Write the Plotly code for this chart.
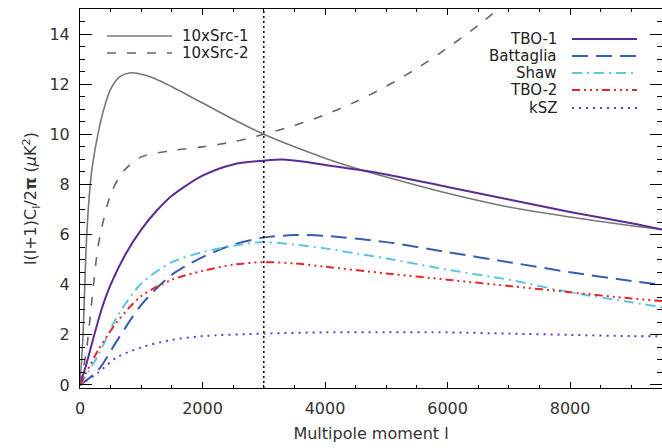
import plotly.graph_objects as go

# ---- data (multipole l, D_l in muK^2) ----
src1_l = [0, 50, 100, 150, 200, 300, 400, 500, 650, 800, 1000, 1200, 1500, 2000, 2500, 3000, 3500, 4000, 4500, 5000, 6000, 7000, 8000, 9000, 9500]
src1_v = [0, 2.0, 5.5, 7.5, 8.7, 10.1, 11.1, 11.8, 12.3, 12.45, 12.4, 12.25, 11.9, 11.25, 10.6, 10.0, 9.5, 9.05, 8.65, 8.3, 7.65, 7.1, 6.7, 6.35, 6.2]

src2_l = [0, 100, 200, 300, 500, 700, 1000, 1500, 2000, 2500, 3000, 3500, 4000, 4500, 5000, 5500, 6000, 6500, 7000]
src2_v = [0, 1.3, 3.5, 5.6, 7.6, 8.5, 9.1, 9.35, 9.5, 9.7, 10.0, 10.35, 10.78, 11.3, 11.92, 12.63, 13.45, 14.35, 15.35]

tbo1_l = [0, 100, 200, 350, 500, 750, 1000, 1250, 1500, 2000, 2500, 3000, 3300, 3700, 4000, 4500, 5000, 6000, 7000, 8000, 9000, 9500]
tbo1_v = [0, 0.8, 1.7, 3.0, 4.0, 5.25, 6.2, 6.95, 7.55, 8.35, 8.8, 8.95, 9.0, 8.9, 8.78, 8.6, 8.4, 7.9, 7.4, 6.9, 6.45, 6.2]

batt_l = [0, 300, 600, 1000, 1500, 2000, 2500, 3000, 3500, 4000, 5000, 6000, 7000, 8000, 9000, 9500]
batt_v = [0, 0.6, 1.75, 3.2, 4.4, 5.1, 5.6, 5.88, 5.98, 5.95, 5.7, 5.3, 4.9, 4.5, 4.15, 4.0]

shaw_l = [0, 300, 600, 1000, 1500, 2000, 2500, 3000, 3500, 4000, 4500, 5000, 6000, 7000, 8000, 9000, 9500]
shaw_v = [0, 1.2, 2.7, 4.05, 4.9, 5.3, 5.55, 5.7, 5.6, 5.45, 5.25, 5.05, 4.6, 4.2, 3.7, 3.3, 3.1]

tbo2_l = [0, 300, 600, 1000, 1500, 2000, 2500, 3000, 3500, 4000, 5000, 6000, 7000, 8000, 9000, 9500]
tbo2_v = [0, 1.4, 2.5, 3.55, 4.2, 4.55, 4.8, 4.9, 4.85, 4.72, 4.45, 4.2, 3.95, 3.7, 3.45, 3.35]

ksz_l = [0, 300, 600, 1000, 1500, 2000, 3000, 4000, 5000, 6000, 7000, 8000, 9000, 9500]
ksz_v = [0, 0.5, 1.1, 1.5, 1.8, 1.95, 2.05, 2.1, 2.1, 2.1, 2.05, 2.0, 1.95, 1.95]

l_marker = 3000
x_range = [0, 9500]
y_range = [-0.12, 15]

x_ticks = [0, 2000, 4000, 6000, 8000]
y_ticks = [0, 2, 4, 6, 8, 10, 12, 14]

series = [
    ("10xSrc-1", src1_l, src1_v, "#777777", "solid", 1.6),
    ("10xSrc-2", src2_l, src2_v, "#666666", "9px,11px", 1.6),
    ("TBO-1", tbo1_l, tbo1_v, "#5b2c91", "solid", 2.0),
    ("Battaglia", batt_l, batt_v, "#3a5cae", "16px,8px", 2.0),
    ("Shaw", shaw_l, shaw_v, "#5cc6df", "10px,5px,2px,5px", 2.0),
    ("TBO-2", tbo2_l, tbo2_v, "#e8252a", "8px,4px,2px,4px,2px,4px,2px,4px", 2.0),
    ("kSZ", ksz_l, ksz_v, "#6a3acb", "2px,5px", 2.0),
]

fig = go.Figure()
for name, xl, yv, col, dash, w in series:
    fig.add_trace(go.Scatter(x=xl, y=yv, mode="lines", name=name, showlegend=False,
                             line=dict(color=col, dash=dash, width=w, shape="spline", smoothing=0.8)))

fig.add_trace(go.Scatter(x=[l_marker, l_marker], y=[y_range[0], y_range[1]], mode="lines",
                         showlegend=False, line=dict(color="black", dash="2px,3px", width=1.5)))

# ---- custom legends ----
font = "DejaVu Sans"
shapes = []
annots = []
# left legend: line then label
left_rows = [series[0], series[1]]
left_y = [36, 53]
for (name, _, _, col, dash, w), ypx in zip(left_rows, left_y):
    yp = 1 - (ypx - 9) / 379
    shapes.append(dict(type="line", xref="paper", yref="paper",
                       x0=(107 - 80) / 582, x1=(172 - 80) / 582, y0=yp, y1=yp,
                       line=dict(color=col, dash=dash, width=w)))
    annots.append(dict(xref="paper", yref="paper", x=(180 - 80) / 582, y=yp, text=name,
                       showarrow=False, xanchor="left", yanchor="middle",
                       font=dict(family=font, size=15, color="#222")))
# right legend: label then line
right_rows = series[2:]
right_y = [39, 56, 73, 90, 108]
for (name, _, _, col, dash, w), ypx in zip(right_rows, right_y):
    yp = 1 - (ypx - 9) / 379
    shapes.append(dict(type="line", xref="paper", yref="paper",
                       x0=(572 - 80) / 582, x1=(637 - 80) / 582, y0=yp, y1=yp,
                       line=dict(color=col, dash=dash, width=w)))
    annots.append(dict(xref="paper", yref="paper", x=(559 - 80) / 582, y=yp, text=name,
                       showarrow=False, xanchor="right", yanchor="middle",
                       font=dict(family=font, size=15, color="#222")))

axis_common = dict(showline=True, linecolor="black", linewidth=1, mirror="ticks",
                   ticks="inside", tickcolor="black", showgrid=False, zeroline=False,
                   tickfont=dict(family=font, size=16, color="#333"))

fig.update_layout(
    width=662, height=448,
    margin=dict(l=80, r=0, t=9, b=60),
    paper_bgcolor="white", plot_bgcolor="white",
    shapes=shapes, annotations=annots,
    xaxis=dict(range=x_range, tickvals=x_ticks, ticklen=6, tickwidth=1,
               minor=dict(dtick=500, ticklen=3, tickcolor="black", ticks="inside"),
               title=dict(text="Multipole moment l", font=dict(family=font, size=16, color="#333"), standoff=10),
               ticklabelstandoff=6, **axis_common),
    yaxis=dict(range=y_range, tickvals=y_ticks, ticklen=12, tickwidth=1,
               minor=dict(dtick=0.5, ticklen=5, tickcolor="black", ticks="inside"),
               title=dict(text="l(l+1)C<sub>l</sub>/2<b>π</b> (<i>μ</i>K<sup>2</sup>)",
                          font=dict(family=font, size=16, color="#333"), standoff=8),
               ticklabelstandoff=6, **axis_common),
)

fig.write_html("out.html")
